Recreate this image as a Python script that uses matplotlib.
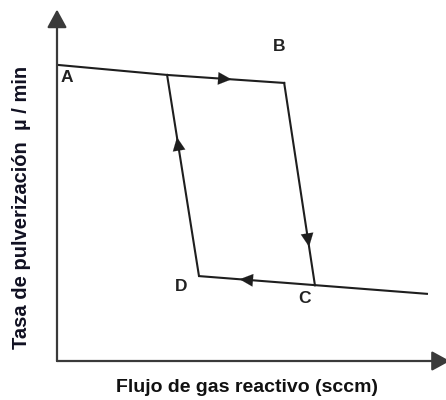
import matplotlib
matplotlib.use("Agg")
import matplotlib.pyplot as plt

plt.rcParams['font.family'] = ['Liberation Sans', 'DejaVu Sans']

# Hysteresis loop (arbitrary units, 0-10)
# upper branch A -> B
upper_x = [0.0, 2.83, 5.84]
upper_y = [8.51, 8.22, 7.99]
# jump B -> C
drop_x = [5.84, 6.63]
drop_y = [7.99, 2.18]
# lower branch C -> end
lower_x = [6.63, 9.51]
lower_y = [2.18, 1.93]
# return C -> D -> junction on upper branch
return_x = [6.63, 3.65, 2.83]
return_y = [2.18, 2.44, 8.22]

point_labels = ["A", "B", "C", "D"]
label_x = [0.25, 5.7, 6.35, 3.2]
label_y = [8.15, 9.05, 1.8, 2.15]

xlabel = "Flujo de gas reactivo (sccm)"
ylabel = "Tasa de pulverización  µ / min"

fig = plt.figure(figsize=(4.46, 4.00), dpi=100)
W, H = 446, 400
ax = fig.add_axes([57 / W, 39 / H, 389 / W, 348 / H])
ax.set_xlim(0, 10)
ax.set_ylim(0, 10)
ax.axis('off')

lc = '#1e1e1e'
lw = 1.5
ax.plot(upper_x, upper_y, color=lc, lw=lw, solid_joinstyle='miter')
ax.plot(drop_x, drop_y, color=lc, lw=lw)
ax.plot(lower_x, lower_y, color=lc, lw=lw)
ax.plot(return_x, return_y, color=lc, lw=lw, solid_joinstyle='miter')

head = '-|>,head_length=0.95,head_width=0.45'


def arrow_on(xs, ys, i, frac):
    x0, y0 = xs[i], ys[i]
    x1, y1 = xs[i + 1], ys[i + 1]
    tx, ty = x0 + frac * (x1 - x0), y0 + frac * (y1 - y0)
    f2 = frac - 0.05
    sx, sy = x0 + f2 * (x1 - x0), y0 + f2 * (y1 - y0)
    ax.annotate('', xy=(tx, ty), xytext=(sx, sy),
                arrowprops=dict(arrowstyle=head, color=lc, lw=0.1,
                                shrinkA=0, shrinkB=0))


arrow_on(upper_x[1:], upper_y[1:], 0, 0.55)
arrow_on(drop_x, drop_y, 0, 0.81)
arrow_on(return_x, return_y, 1, 0.69)
arrow_on(return_x, return_y, 0, 0.65)

# axes with arrows
ac = '#3a3a3a'
ax.annotate('', xy=(0, 10.1), xytext=(0, 0),
            arrowprops=dict(arrowstyle='-|>,head_length=1.1,head_width=0.6',
                            color=ac, lw=1.6, shrinkA=0, shrinkB=0),
            annotation_clip=False)
ax.annotate('', xy=(10.1, 0), xytext=(0, 0),
            arrowprops=dict(arrowstyle='-|>,head_length=1.1,head_width=0.6',
                            color=ac, lw=1.6, shrinkA=0, shrinkB=0),
            annotation_clip=False)

for t, x, y in zip(point_labels, label_x, label_y):
    ax.text(x, y, t, fontsize=12.5, fontweight='bold', color='#222222',
            ha='center', va='center')

fig.text(247 / W, 1 - 388 / H, xlabel, fontsize=14, fontweight='bold',
         ha='center', va='center', color='#111111')
fig.text(22 / W, 1 - 207 / H, ylabel, fontsize=14.5, fontweight='bold',
         ha='center', va='center', rotation=90, color='#111122')

fig.savefig('out.png', dpi=100)
